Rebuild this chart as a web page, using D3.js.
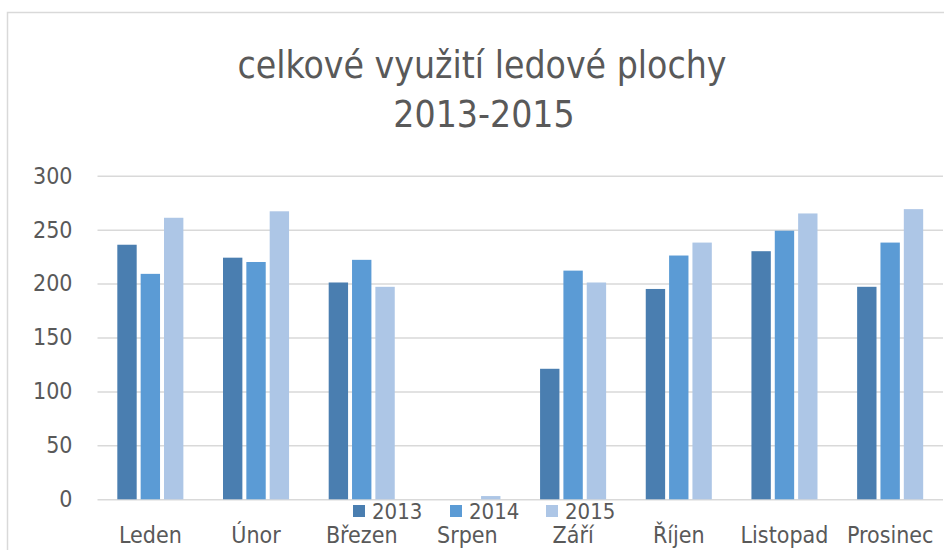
<!DOCTYPE html>
<html>
<head>
<meta charset="utf-8">
<script src="https://cdn.jsdelivr.net/npm/d3@7"></script>
<style>
  body { margin: 0; background: #fff; }
  svg text { font-family: "Liberation Sans Narrow", "DejaVu Sans Condensed", "Open Sans", sans-serif; }
</style>
</head>
<body>
<div id="chart"></div>
<script>
// data
var months = ["Leden", "Únor", "Březen", "Srpen", "Září", "Říjen", "Listopad", "Prosinec"];
var years = ["2013", "2014", "2015"];
var v2013 = [236, 224, 201, 0, 121, 195, 230, 197];
var v2014 = [209, 220, 222, 0, 212, 226, 249, 238];
var v2015 = [261, 267, 197, 3, 201, 238, 265, 269];
var yTicks = [0, 50, 100, 150, 200, 250, 300];
var colors = ["#4a7eb0", "#5b9bd5", "#adc6e6"];

var w = 944, h = 550;
var margin = {top: 175.7, right: 1, bottom: 50.7, left: 97.5};

var svg = d3.select("#chart").append("svg")
    .attr("width", w)
    .attr("height", h);

// chart frame
svg.append("rect")
    .attr("x", 7.5).attr("y", 12.5)
    .attr("width", w + 10).attr("height", h + 10)
    .style("fill", "#fff")
    .style("stroke", "#d9d9d9")
    .style("stroke-width", 1.5);

var x0 = d3.scaleBand().domain(months).range([margin.left, w - margin.right]).padding(0);
var groupW = x0.bandwidth() * 0.625;
var x1 = d3.scaleBand().domain(years).range([0, groupW]).paddingInner(0.17);
var y = d3.scaleLinear().domain([0, 300]).range([h - margin.bottom, margin.top]);

// y axis with gridlines
var yAxis = d3.axisLeft(y)
    .tickValues(yTicks)
    .tickSize(-(w - margin.right - margin.left))
    .tickPadding(25);

var gy = svg.append("g")
    .attr("transform", "translate(" + margin.left + ",0)")
    .call(yAxis);
gy.select(".domain").remove();
gy.selectAll(".tick line").style("stroke", "#d9d9d9").style("stroke-width", 1.5);
gy.selectAll(".tick text")
    .style("font-size", "23px")
    .style("fill", "#595959");

// bars
var series = [v2013, v2014, v2015];
var offset = (x0.bandwidth() - groupW) / 2;
series.forEach(function(vals, s) {
    svg.append("g").selectAll("rect")
        .data(vals)
        .enter().append("rect")
        .attr("x", function(d, i) { return x0(months[i]) + offset + x1(years[s]); })
        .attr("y", function(d) { return y(d); })
        .attr("width", x1.bandwidth())
        .attr("height", function(d) { return y(0) - y(d); })
        .style("fill", colors[s]);
});

// x labels
var xAxis = d3.axisBottom(x0).tickSize(0).tickPadding(27);
var gx = svg.append("g")
    .attr("transform", "translate(0," + y(0) + ")")
    .call(xAxis);
gx.select(".domain").remove();
gx.selectAll(".tick text")
    .style("font-size", "23px")
    .style("fill", "#595959");

// legend (sits over the axis like in the original)
var legendX = [353, 450, 546];
var legend = svg.append("g");
years.forEach(function(yr, i) {
    legend.append("rect")
        .attr("x", legendX[i]).attr("y", 505)
        .attr("width", 12).attr("height", 12)
        .style("fill", colors[i]);
    legend.append("text")
        .attr("x", legendX[i] + 19).attr("y", 519)
        .style("font-size", "22px")
        .style("fill", "#595959")
        .text(yr);
});

// title
var title = svg.append("text")
    .attr("text-anchor", "middle")
    .attr("x", 482)
    .style("font-size", "37px")
    .style("fill", "#595959");
title.append("tspan").attr("x", 482).attr("y", 78).text("celkové využití ledové plochy");
title.append("tspan").attr("x", 484).attr("y", 127).text("2013-2015");
</script>
</body>
</html>
